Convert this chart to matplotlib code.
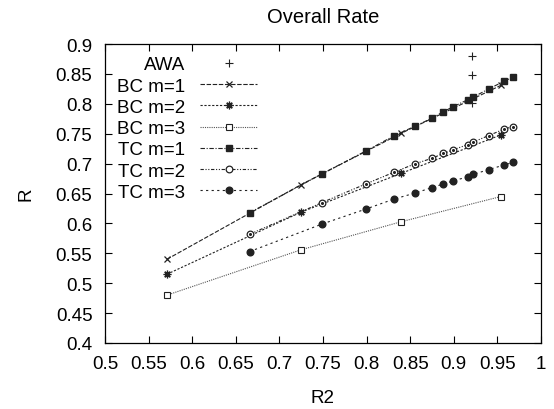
import numpy as np
import matplotlib
matplotlib.use('Agg')
import matplotlib.pyplot as plt

plt.rcParams['font.family'] = ['Liberation Sans', 'DejaVu Sans']

# AWA points
awa_x = [0.921, 0.921, 0.921]
awa_y = [0.880, 0.848, 0.801]

# BC runs
bc_x = [0.571, 0.725, 0.840, 0.954]
bc_m1 = [0.540, 0.665, 0.751, 0.831]
bc_m2 = [0.515, 0.619, 0.684, 0.748]
bc_m3 = [0.480, 0.556, 0.603, 0.645]

# TC runs
tc_x = [0.666, 0.749, 0.799, 0.832, 0.856, 0.875, 0.888, 0.899, 0.916, 0.922, 0.940, 0.958, 0.968]
tc_m1 = [0.618, 0.683, 0.721, 0.747, 0.763, 0.776, 0.787, 0.795, 0.807, 0.811, 0.825, 0.838, 0.845]
tc_m2 = [0.582, 0.635, 0.666, 0.686, 0.700, 0.709, 0.717, 0.723, 0.732, 0.736, 0.747, 0.758, 0.762]
tc_m3 = [0.553, 0.599, 0.624, 0.641, 0.651, 0.660, 0.666, 0.671, 0.678, 0.682, 0.690, 0.698, 0.702]

xticks = [0.5, 0.55, 0.6, 0.65, 0.7, 0.75, 0.8, 0.85, 0.9, 0.95, 1.0]
yticks = [0.4, 0.45, 0.5, 0.55, 0.6, 0.65, 0.7, 0.75, 0.8, 0.85, 0.9]

fs = 13.5
lc = '#222222'

fig = plt.figure(figsize=(5.54, 4.10), dpi=100)
ax = fig.add_axes([0.1895, 0.161, 0.787, 0.729])

ax.plot(awa_x, awa_y, ls='none', marker='+', ms=5.5, mew=0.8, color=lc, label='AWA')
ax.plot(bc_x, bc_m1, ls=(0, (4, 1.5)), lw=0.8, marker='x', ms=5, mew=0.9,
        color=lc, label='BC m=1')
ax.plot(bc_x, bc_m2, ls=(0, (2, 1.5)), lw=0.8, marker=(8, 2, 0), ms=5.5, mew=0.9,
        color=lc, label='BC m=2')
ax.plot(bc_x, bc_m3, ls=(0, (1, 1)), lw=0.8, marker='s', ms=4.5, mew=0.8,
        mfc='white', color='#555555', mec=lc, label='BC m=3')
ax.plot(tc_x, tc_m1, ls=(0, (4, 1.5, 1, 1.5)), lw=0.8, marker='s', ms=4.5,
        color=lc, label='TC m=1')
ax.plot(tc_x, tc_m2, ls=(0, (3, 1.5, 1, 1.5, 1, 1.5)), lw=0.8, marker='o', ms=4.8,
        mew=0.9, mfc='white', color=lc, label='TC m=2')
ax.plot(tc_x, tc_m2, ls='none', marker='o', ms=1.2, color=lc)
ax.plot(tc_x, tc_m3, ls=(0, (2, 3)), lw=0.8, marker='o', ms=4.8, color=lc,
        label='TC m=3')

ax.set_xlim(0.5, 1.0)
ax.set_ylim(0.4, 0.9)
ax.set_xticks(xticks)
ax.set_yticks(yticks)
ax.set_xticklabels(['%g' % v for v in xticks])
ax.set_yticklabels(['%g' % v for v in yticks])
ax.tick_params(direction='in', length=5, width=0.8, top=True, right=True,
               labelsize=fs, colors='black')
ax.tick_params(axis='x', pad=9)
ax.tick_params(axis='y', pad=9)
for sp in ax.spines.values():
    sp.set_linewidth(0.9)

ax.set_xlabel('R2', fontsize=fs, labelpad=12)
ax.set_ylabel('R', fontsize=fs, labelpad=15)
ax.set_title('Overall Rate', fontsize=14.5, pad=16)

leg = ax.legend(loc='upper left', bbox_to_anchor=(0.0, 1.0), frameon=False,
                markerfirst=False, fontsize=fs, handlelength=3.0,
                handletextpad=0.8, labelspacing=0.22, borderaxespad=0.25)
# right-align the labels like gnuplot does
for col in leg._legend_handle_box.get_children():
    col.align = 'right'

fig.savefig('out.png', dpi=100)
